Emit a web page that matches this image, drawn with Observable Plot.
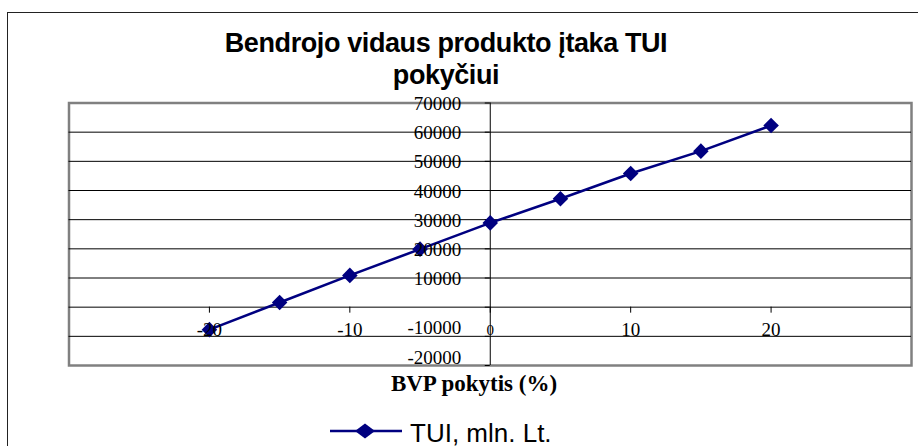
<!DOCTYPE html>
<html>
<head>
<meta charset="utf-8">
<script src="https://cdn.jsdelivr.net/npm/d3@7"></script>
<script src="https://cdn.jsdelivr.net/npm/@observablehq/plot@0.6"></script>
<style>
  html, body { margin: 0; padding: 0; background: #fff; }
  #wrap { position: relative; width: 918px; height: 446px; overflow: hidden; background: #fff; }
  #outer { position: absolute; left: 7px; top: 12px; width: 1000px; height: 1000px;
           border-top: 1.5px solid #222; border-left: 1.5px solid #222; }
  #chart { position: absolute; left: 0; top: 0; }
  #title { position: absolute; left: 0; width: 892px; top: 27px; text-align: center;
           font: bold 27px/32px "Liberation Sans", Arial, sans-serif; letter-spacing: -0.4px; color: #000; }
  #xlabel { position: absolute; left: 274px; width: 400px; top: 371px; text-align: center;
            font: bold 23px/26px "Liberation Serif", "Times New Roman", serif; color: #000; }
  #legend { position: absolute; left: 330px; top: 419.5px; height: 26px; display: flex; align-items: flex-start; }
  #legend svg { margin-top: 1.5px; }
  #legend span { margin-left: 8px; font: 26px/26px "Liberation Sans", Arial, sans-serif; color: #000; }
</style>
</head>
<body>
<div id="wrap">
  <div id="outer"></div>
  <div id="chart"></div>
  <div id="title"></div>
  <div id="xlabel"></div>
  <div id="legend"></div>
</div>
<script>
// ---- data ----
const titleLines = ["Bendrojo vidaus produkto įtaka TUI", "pokyčiui"];
const xTitle = "BVP pokytis (%)";
const seriesName = "TUI, mln. Lt.";
const bvpChange = [-20, -15, -10, -5, 0, 5, 10, 15, 20];
const tuiValues = [-7700, 1600, 10900, 19900, 28900, 37200, 45800, 53500, 62300];
const xTicks = [-20, -10, 0, 10, 20];
const yTicks = [-20000, -10000, 0, 10000, 20000, 30000, 40000, 50000, 60000, 70000];
const yLabelTicks = [-20000, -10000, 10000, 20000, 30000, 40000, 50000, 60000, 70000];
const xDomain = [-30, 30];
const yDomain = [-20000, 70000];

const navy = "#000080";
const data = bvpChange.map((x, i) => ({x, y: tuiValues[i]}));
const gridTicks = yTicks.filter(d => d > yDomain[0] && d < yDomain[1]);
const posLabels = yLabelTicks.filter(d => d > 0);
const negLabels = yLabelTicks.filter(d => d < 0);

const serif = '"Liberation Serif", "Times New Roman", serif';
const yLabelStyle = {x: 0, y: d => d, text: d => String(d), textAnchor: "end", dx: -29,
  fontSize: 19, fontFamily: serif, fill: "#000"};

const chart = Plot.plot({
  width: 918,
  height: 446,
  marginTop: 102.5,
  marginBottom: 81,
  marginLeft: 68.5,
  marginRight: 7,
  x: {domain: xDomain, axis: null},
  y: {domain: yDomain, axis: null},
  style: {background: "transparent", fontFamily: serif},
  marks: [
    Plot.frame({stroke: "#808080", strokeWidth: 2.5}),
    Plot.ruleY(gridTicks, {y: d => d, stroke: "#000", strokeWidth: 1}),
    Plot.ruleX([0], {stroke: "#000", strokeWidth: 1}),
    // y-axis tick marks (pointing left from the x=0 axis)
    Plot.ruleY(yTicks, {y: d => d, x1: 0, x2: 0, insetLeft: -5, stroke: "#000", strokeWidth: 1}),
    // x-axis tick marks (pointing down from the y=0 axis)
    Plot.ruleX(xTicks, {x: d => d, y1: 0, y2: 0, insetBottom: -6, stroke: "#000", strokeWidth: 1}),
    Plot.line(data, {x: "x", y: "y", stroke: navy, strokeWidth: 2.6}),
    Plot.dot(data, {x: "x", y: "y", symbol: "diamond2", r: 7, fill: navy, stroke: "none"}),
    Plot.text(posLabels, {...yLabelStyle, dy: 1}),
    Plot.text(negLabels, {...yLabelStyle, dy: -8}),
    Plot.text(xTicks, {x: d => d, y: 0, text: d => String(d), dy: 23,
      fontSize: d => d === 0 ? 15 : 19, fontFamily: serif, fill: "#000"})
  ]
});
document.getElementById("chart").appendChild(chart);

document.getElementById("title").innerHTML = titleLines.join("<br>");
document.getElementById("xlabel").textContent = xTitle;

const legend = document.getElementById("legend");
legend.innerHTML =
  `<svg width="72" height="20" viewBox="0 0 72 20">
     <line x1="0" y1="10" x2="72" y2="10" stroke="${navy}" stroke-width="2.6"/>
     <path d="M35,2.5 L45,10 L35,17.5 L25,10 Z" fill="${navy}"/>
   </svg><span></span>`;
legend.querySelector("span").textContent = seriesName;
</script>
</body>
</html>
